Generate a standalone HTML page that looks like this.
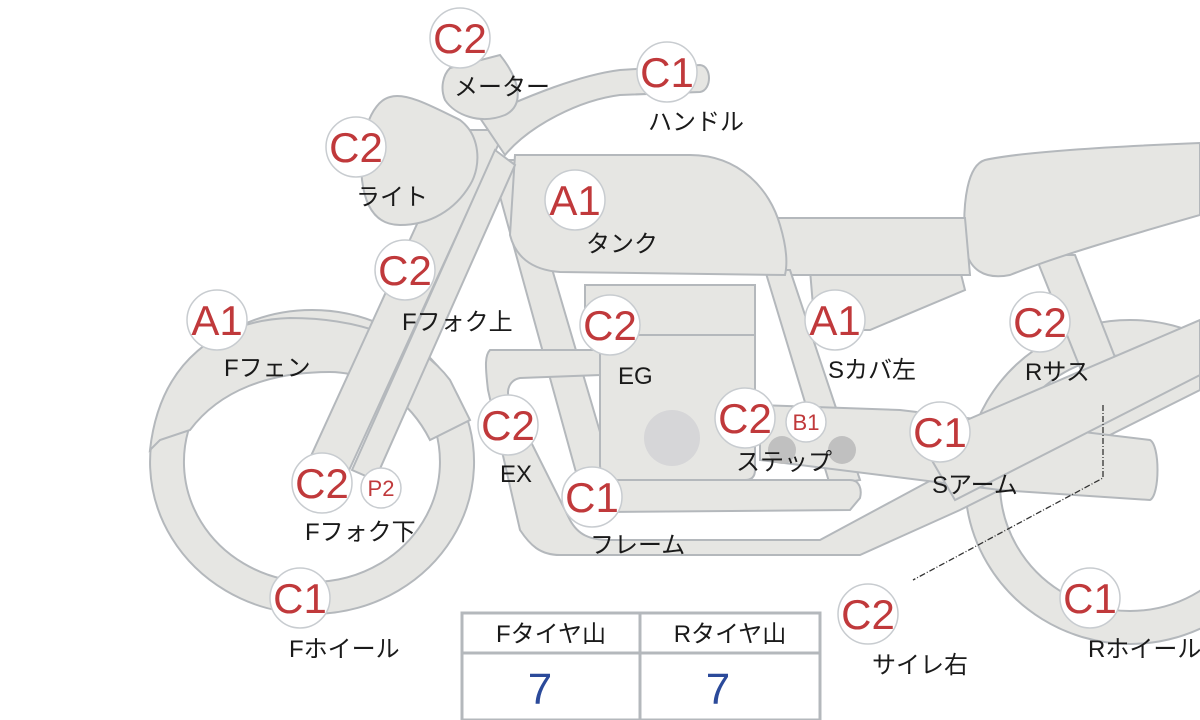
<!DOCTYPE html>
<html><head><meta charset="utf-8"><style>
html,body{margin:0;padding:0;background:#fff;}
svg{display:block;}
text{font-family:"Liberation Sans","Noto Sans CJK JP",sans-serif;}
.s{fill:#e6e6e3;stroke:#b4b8bc;stroke-width:2;}
.b{fill:#fff;stroke:#c8ccd0;stroke-width:1.5;}
.t{fill:#c0393b;font-size:42px;text-anchor:middle;}
.ts{fill:#c0393b;font-size:22px;text-anchor:middle;}
.l{fill:#1a1a1a;font-size:24px;}
</style></head><body>
<svg width="1200" height="720" viewBox="0 0 1200 720">
<!-- rear wheel -->
<path class="s" fill-rule="evenodd" d="M1130,320 a165,162 0 1,0 0.1,0 Z M1130,355 a130,128 0 1,1 -0.1,0 Z"/>
<!-- front wheel -->
<path class="s" fill-rule="evenodd" d="M312,310 a162,152 0 1,0 0.1,0 Z M312,342 a128,120 0 1,1 -0.1,0 Z"/>
<!-- fender -->
<path class="s" d="M150,450 C160,360 220,320 290,318 C360,318 420,340 450,380 L470,420 L430,440 C410,400 370,372 330,372 C270,372 220,390 190,430 L160,440 Z"/>
<!-- rear frame struts -->
<path class="s" d="M1035,255 L1075,255 L1120,370 L1085,380 Z"/>
<!-- rear seat -->
<path class="s" d="M985,160 C1030,150 1150,145 1200,143 L1200,215 C1130,235 1060,255 1010,275 C985,280 968,270 965,245 C962,200 968,165 985,160 Z"/>
<!-- sub frame triangle under seat -->
<path class="s" d="M810,270 L960,270 L965,290 L870,330 L815,330 Z"/>
<!-- mid seat -->
<path class="s" d="M775,218 L965,218 L970,275 L780,275 Z"/>
<!-- down tubes -->
<path class="s" d="M490,160 L520,160 L620,500 L585,505 Z"/>
<path class="s" d="M765,270 L790,270 L860,480 L830,485 Z"/>
<!-- tank -->
<path class="s" d="M515,155 L690,155 C740,155 770,190 780,225 C786,245 788,262 785,275 L560,272 C530,270 515,255 510,235 Z"/>
<!-- engine -->
<path class="s" d="M600,330 L755,330 L755,470 Q755,480 745,480 L615,480 Q600,480 600,465 Z"/>
<rect class="s" x="585" y="285" width="170" height="50"/>
<circle cx="672" cy="438" r="28" fill="#d6d6d8"/>
<!-- exhaust / frame lower -->
<path class="s" d="M490,350 L600,350 L600,375 L520,378 C510,380 505,390 510,400 L570,520 C578,535 590,540 610,540 L820,540 L950,470 L1200,330 L1200,390 L960,510 L860,555 L560,555 C540,555 530,545 520,530 L488,390 C485,365 485,355 490,350 Z"/>
<path class="s" d="M605,480 L850,480 C860,480 862,490 860,498 L850,510 L605,512 Z"/>
<!-- step bar and swingarm -->
<path class="s" d="M760,405 L900,410 L1150,440 C1160,445 1160,495 1150,500 L1000,490 L760,460 Z"/>
<path class="s" d="M920,440 L1200,320 L1200,375 L955,500 Z"/>
<circle cx="782" cy="450" r="14" fill="#c0c0c0"/>
<circle cx="842" cy="450" r="14" fill="#c0c0c0"/>
<!-- forks -->
<path class="s" d="M460,130 L505,130 L340,490 L300,480 Z"/>
<path class="s" d="M495,150 L515,165 L375,480 L352,470 Z"/>
<!-- headlight -->
<path class="s" d="M390,97 C405,92 430,105 460,120 C480,135 482,165 470,185 C455,210 430,225 400,225 C375,225 365,205 362,180 C358,140 370,102 390,97 Z"/>
<!-- handlebar -->
<path class="s" d="M480,118 C530,95 580,75 620,70 L700,65 C712,66 712,90 700,92 L620,95 C580,100 530,125 505,155 Z"/>
<!-- meter -->
<path class="s" d="M450,68 L500,55 C520,80 525,105 505,115 C480,125 455,115 445,100 C440,88 443,75 450,68 Z"/>
<!-- dashed pointer -->
<path d="M1103,405 L1103,478 L913,580" fill="none" stroke="#333" stroke-width="1.3" stroke-dasharray="6,2,1,2"/>
<!-- table -->
<rect x="462" y="613" width="358" height="107" fill="#fff" stroke="#b4b8bc" stroke-width="3"/>
<line x1="462" y1="653" x2="820" y2="653" stroke="#b4b8bc" stroke-width="3"/>
<line x1="640" y1="613" x2="640" y2="720" stroke="#b4b8bc" stroke-width="3"/>
<text class="l" x="551" y="642" text-anchor="middle">Fタイヤ山</text>
<text class="l" x="730" y="642" text-anchor="middle">Rタイヤ山</text>
<text x="540" y="704" fill="#2b4a9a" font-size="44" text-anchor="middle" style="font-family:'Liberation Sans',sans-serif">7</text>
<text x="718" y="704" fill="#2b4a9a" font-size="44" text-anchor="middle" style="font-family:'Liberation Sans',sans-serif">7</text>
<!-- badges -->
<g>
<circle class="b" cx="460" cy="38" r="30"/><text class="t" x="460" y="53">C2</text>
<circle class="b" cx="667" cy="72" r="30"/><text class="t" x="667" y="87">C1</text>
<circle class="b" cx="356" cy="147" r="30"/><text class="t" x="356" y="162">C2</text>
<circle class="b" cx="575" cy="200" r="30"/><text class="t" x="575" y="215">A1</text>
<circle class="b" cx="405" cy="270" r="30"/><text class="t" x="405" y="285">C2</text>
<circle class="b" cx="217" cy="320" r="30"/><text class="t" x="217" y="335">A1</text>
<circle class="b" cx="610" cy="325" r="30"/><text class="t" x="610" y="340">C2</text>
<circle class="b" cx="835" cy="320" r="30"/><text class="t" x="835" y="335">A1</text>
<circle class="b" cx="1040" cy="322" r="30"/><text class="t" x="1040" y="337">C2</text>
<circle class="b" cx="508" cy="425" r="30"/><text class="t" x="508" y="440">C2</text>
<circle class="b" cx="745" cy="418" r="30"/><text class="t" x="745" y="433">C2</text>
<circle class="b" cx="806" cy="422" r="20"/><text class="ts" x="806" y="430">B1</text>
<circle class="b" cx="940" cy="432" r="30"/><text class="t" x="940" y="447">C1</text>
<circle class="b" cx="322" cy="483" r="30"/><text class="t" x="322" y="498">C2</text>
<circle class="b" cx="381" cy="488" r="20"/><text class="ts" x="381" y="496">P2</text>
<circle class="b" cx="592" cy="497" r="30"/><text class="t" x="592" y="512">C1</text>
<circle class="b" cx="300" cy="598" r="30"/><text class="t" x="300" y="613">C1</text>
<circle class="b" cx="868" cy="614" r="30"/><text class="t" x="868" y="629">C2</text>
<circle class="b" cx="1090" cy="598" r="30"/><text class="t" x="1090" y="613">C1</text>
</g>
<!-- labels -->
<text class="l" x="454" y="95">メーター</text>
<text class="l" x="648" y="130">ハンドル</text>
<text class="l" x="356" y="205">ライト</text>
<text class="l" x="586" y="252">タンク</text>
<text class="l" x="402" y="330">Fフォク上</text>
<text class="l" x="224" y="376">Fフェン</text>
<text class="l" x="618" y="384">EG</text>
<text class="l" x="828" y="378">Sカバ左</text>
<text class="l" x="1025" y="380">Rサス</text>
<text class="l" x="500" y="482">EX</text>
<text class="l" x="736" y="470">ステップ</text>
<text class="l" x="932" y="493">Sアーム</text>
<text class="l" x="305" y="540">Fフォク下</text>
<text class="l" x="590" y="553">フレーム</text>
<text class="l" x="289" y="657">Fホイール</text>
<text class="l" x="872" y="673">サイレ右</text>
<text class="l" x="1088" y="657">Rホイール</text>
</svg>
</body></html>
